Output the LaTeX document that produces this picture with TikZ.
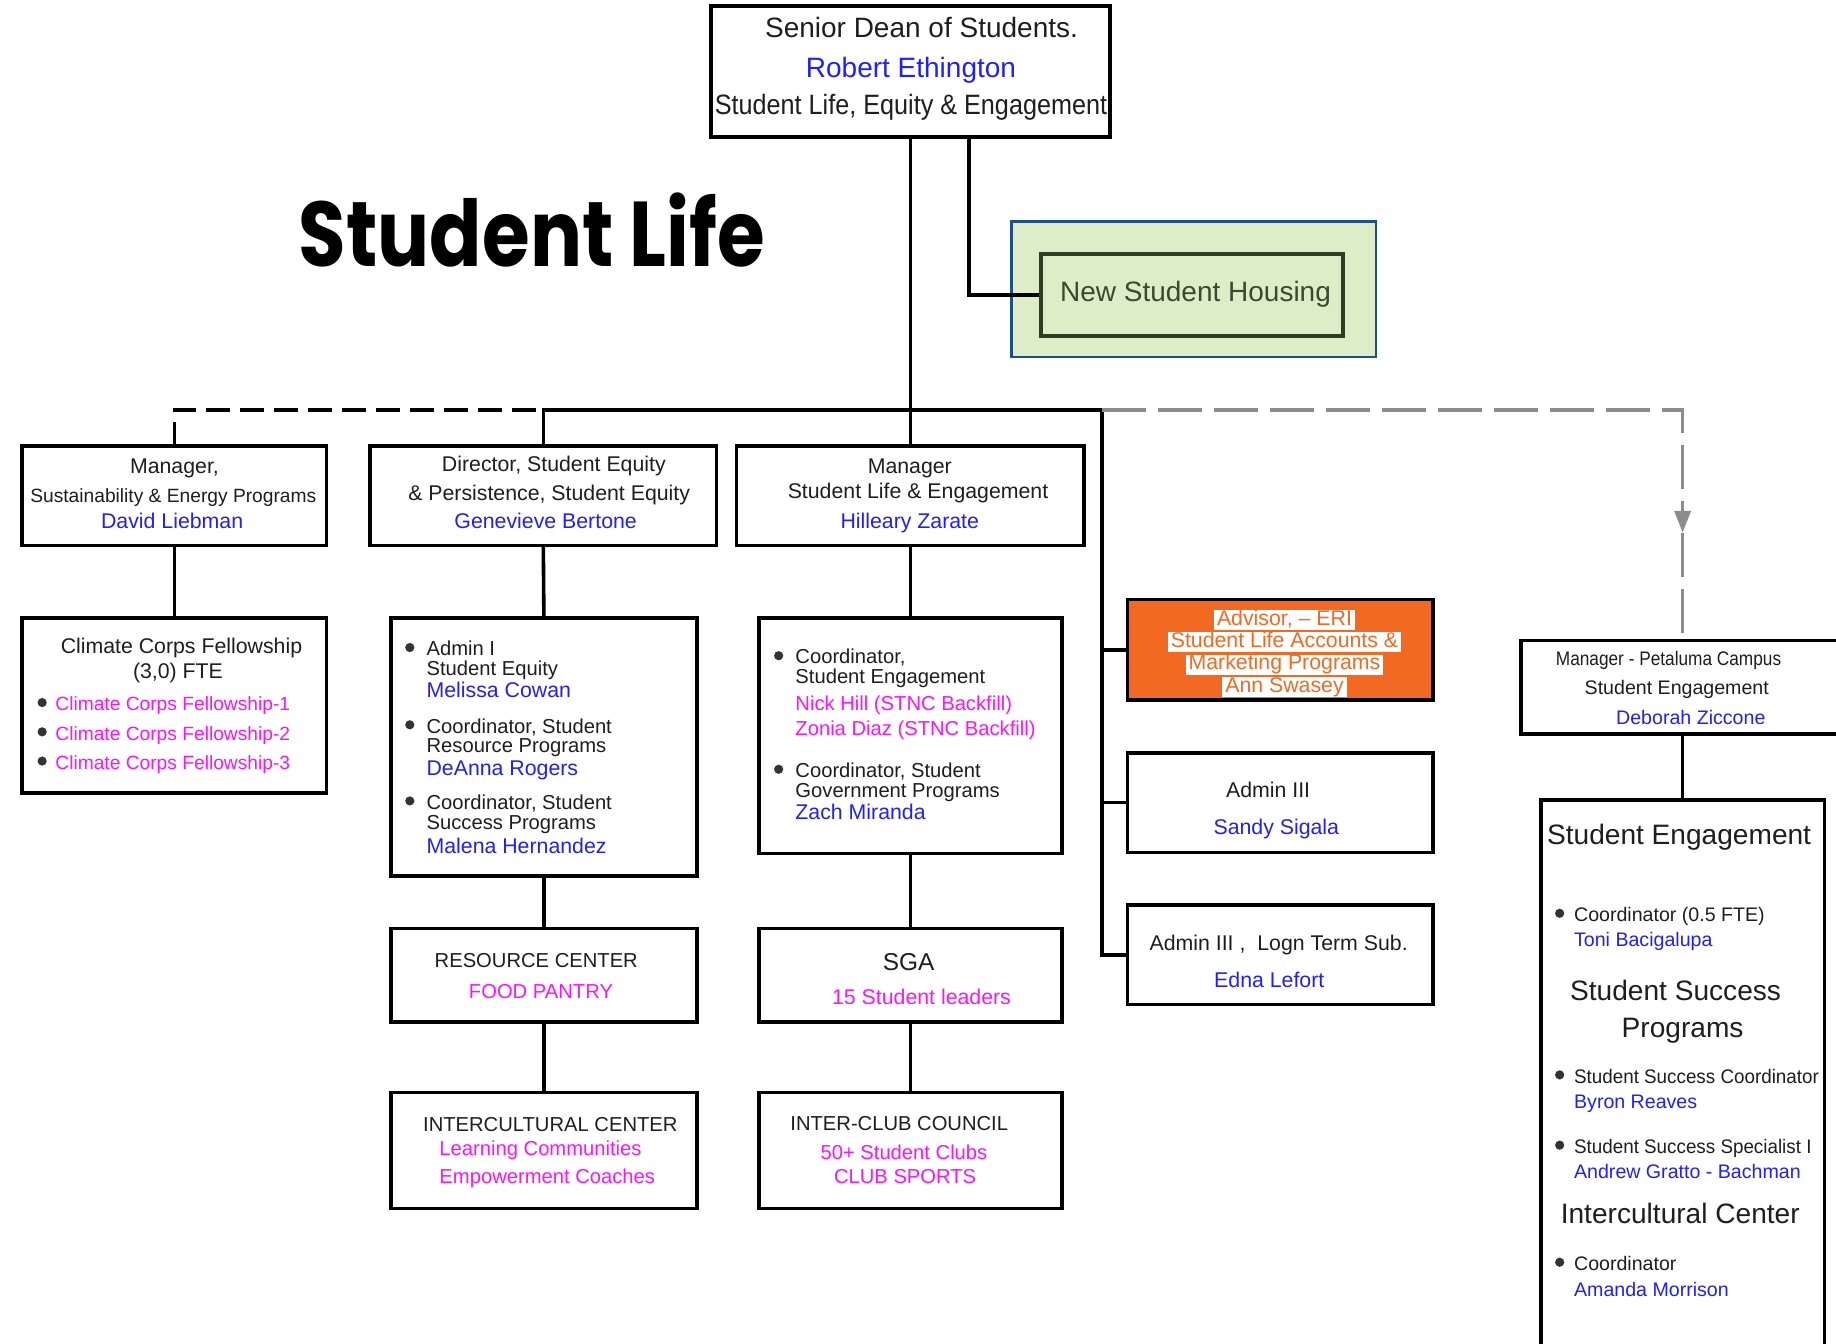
\documentclass[tikz,border=0pt]{standalone}
\usepackage{fontspec}
\setmainfont{Liberation Sans}
\newfontfamily\titlefont{Poppins}
\usetikzlibrary{arrows.meta}
\definecolor{nameblue}{HTML}{1F1FFF}
\definecolor{mag}{HTML}{FF10FF}
\definecolor{orng}{HTML}{F26A22}
\definecolor{hgreen}{HTML}{DCEDC8}
\definecolor{hblue}{HTML}{1F4E8C}
\definecolor{hdark}{HTML}{2F3B22}
\definecolor{htext}{HTML}{3A4A2E}
\definecolor{txtc}{HTML}{1E1E1E}
\definecolor{dgray}{HTML}{8C8C8C}
\definecolor{bulc}{HTML}{333333}
\newcommand\fs[1]{\fontsize{#1}{#1}\selectfont}
\newcommand\bx[6][]{\node[boxst,#1,minimum width={(#5-#3)*0.5855pt},minimum height={(#6-#4)*0.5855pt}] (#2) at ({(#3+#5)/2},{(#4+#6)/2}) {};}
\newcommand\tc[5][]{\node[txt,#1] (#2) at (#3,#4) {#5};}
\newcommand\tl[5][]{\node[txt,anchor=mid west,#1] (#2) at (#3,#4) {#5};}
\newcommand\bul[2]{\fill[bulc] (#1,#2) circle (2.3pt);}
\begin{document}
\begin{tikzpicture}[x=0.5855pt,y=-0.5855pt,
  boxst/.style={draw=black,line width=1.8pt,fill=white,inner sep=0pt,outer sep=0pt},
  conn/.style={line width=1.8pt,draw=black},
  bdash/.style={line width=1.8pt,draw=black,dash pattern=on 12pt off 5pt},
  gdash/.style={line width=1.8pt,draw=dgray,dash pattern=on 22pt off 6pt},
  txt/.style={inner sep=0pt,anchor=mid,text=txtc,yshift=-1.5pt},
  nm/.style={text=nameblue},
  mg/.style={text=mag},
  sA/.style={font=\fs{14},yshift=-1pt},
  sB/.style={font=\fs{10.65}},
  sC/.style={font=\fs{10.1}},
  sD/.style={font=\fs{9.6}},
  sE/.style={font=\fs{14.05},yshift=-1.2pt},
  sF/.style={font=\fs{9.8}},
  otx/.style={txt,anchor=center,font=\fs{10.65},text=orng,fill=white,inner xsep=1.5pt,inner ysep=0.3pt,text height=0.74em,text depth=0.2em,yshift=0pt}]
\useasboundingbox (0,0) rectangle (1568,1147);
\clip (0,0) rectangle (1568,1147);

% title
\node[inner sep=0pt,anchor=base west,text=black,font=\titlefont\bfseries\fs{46}] (title) at (255,228) {\scalebox{0.84}[1]{Student Life}};

% boxes
\bx{T}{607}{5}{948}{117}
\node[draw=hblue,line width=1.3pt,fill=hgreen,inner sep=0pt,minimum width={311*0.5855pt},minimum height={116*0.5855pt}] (HO) at (1019.5,247) {};
\node[draw=hdark,line width=1.8pt,inner sep=0pt,minimum width={258*0.5855pt},minimum height={70*0.5855pt}] (HI) at (1018,252) {};
\bx{B1}{19}{381}{279}{466}
\bx{B2}{316}{381}{612}{466}
\bx{B3}{629}{381}{926}{466}
\bx{C}{19}{528}{279}{677}
\bx{EQ}{334}{528}{595}{748}
\bx{EN}{648}{528}{907}{729}
\bx{RC}{334}{793}{595}{873}
\bx{SGA}{648}{793}{907}{873}
\bx{IC}{334}{933}{595}{1032}
\bx{ICC}{648}{933}{907}{1032}
\bx[fill=orng]{O}{963}{512}{1224}{598}
\bx{A3}{963}{643}{1224}{728}
\bx{L}{963}{773}{1224}{858}
\bx{P}{1299}{547}{1575}{627}
\bx{E}{1316}{683}{1558}{1160}

% connectors
\coordinate (busM) at (778,350);
\coordinate (busR) at (941,350);
\coordinate (gA) at (1437,455);
\draw[conn] (T.south) -- (B3.north);
\draw[conn] ([xshift=29.3pt]T.south) |- (HI.west);
\draw[conn] (B2.north) -- (B2.north |- busM) -- (busR) -- (busR |- L.west) -- (L.west);
\draw[conn] (busR |- O.west) -- (O.west);
\draw[conn] (busR |- A3.west) -- (A3.west);
\draw[bdash] (B1.north) -- (B1.north |- busM) -- (B2.north |- busM);
\draw[gdash,-{Triangle[width=8pt,length=11pt]}] (busR) -- (P.north |- busM) -- (gA);
\draw[gdash] (gA) -- (P.north);
\draw[conn] (B1.south) -- (C.north);
\draw[conn] (B2.south) -- (EQ.north);
\draw[conn] (B3.south) -- (EN.north);
\draw[conn] (EQ.south) -- (RC.north);
\draw[conn] (RC.south) -- (IC.north);
\draw[conn] (EN.south) -- (SGA.north);
\draw[conn] (SGA.south) -- (ICC.north);
\draw[conn] (P.south) -- (E.north);

% top box text
\tc[sA]{t1}{787}{23}{Senior Dean of Students.}
\tc[sA,nm]{t2}{778}{57}{Robert Ethington}
\tc[sA]{t3}{778}{89}{\scalebox{0.9}[1]{Student Life, Equity \& Engagement}}
% housing
\tc[sA,text=htext]{h1}{1021}{249}{New Student Housing}
% row 1
\tc[sB]{b11}{149}{397}{Manager,}
\tc[sD]{b12}{148}{422}{Sustainability \& Energy Programs}
\tc[sB,nm]{b13}{147}{444}{David Liebman}
\tc[sB]{b21}{473}{396}{Director, Student Equity}
\tc[sB]{b22}{469}{420}{\& Persistence, Student Equity}
\tc[sB,nm]{b23}{466}{444}{Genevieve Bertone}
\tc[sB]{b31}{777}{397}{Manager}
\tc[sB]{b32}{784}{419}{Student Life \& Engagement}
\tc[sB,nm]{b33}{777}{444}{Hilleary Zarate}
% climate
\tc[sB]{c1}{155}{551}{Climate Corps Fellowship}
\tc[sB]{c2}{152}{572}{(3,0) FTE}
\bul{36}{600}\tl[sD,mg]{c3}{47}{600}{Climate Corps Fellowship-1}
\bul{36}{625}\tl[sD,mg]{c4}{47}{625}{Climate Corps Fellowship-2}
\bul{36}{650}\tl[sD,mg]{c5}{47}{650}{Climate Corps Fellowship-3}
% equity list
\bul{350}{553}\tl[sC]{q1}{364}{553}{Admin I}
\tl[sC]{q2}{364}{570}{Student Equity}
\tl[sB,nm]{q3}{364}{589}{Melissa Cowan}
\bul{350}{619}\tl[sC]{q4}{364}{619}{Coordinator, Student}
\tl[sC]{q5}{364}{636}{Resource Programs}
\tl[sB,nm]{q6}{364}{655}{DeAnna Rogers}
\bul{350}{684}\tl[sC]{q7}{364}{684}{Coordinator, Student}
\tl[sC]{q8}{364}{701}{Success Programs}
\tl[sB,nm]{q9}{364}{722}{Malena Hernandez}
% engagement list
\bul{665}{560}\tl[sC]{e1}{679}{560}{Coordinator,}
\tl[sC]{e2}{679}{577}{Student Engagement}
\tl[sC,mg]{e3}{679}{600}{Nick Hill (STNC Backfill)}
\tl[sC,mg]{e4}{679}{621}{Zonia Diaz (STNC Backfill)}
\bul{665}{657}\tl[sC]{e5}{679}{657}{Coordinator, Student}
\tl[sC]{e6}{679}{674}{Government Programs}
\tl[sB,nm]{e7}{679}{693}{Zach Miranda}
% row 3 / 4
\tc[sC]{r1}{458}{819}{RESOURCE CENTER}
\tc[sC,mg]{r2}{462}{846}{FOOD PANTRY}
\tc[font=\fs{12.2}]{s1}{776}{822}{SGA}
\tc[sB,mg]{s2}{787}{851}{15 Student leaders}
\tc[sC]{i1}{470}{959}{INTERCULTURAL CENTER}
\tl[sC,mg]{i2}{375}{980}{Learning Communities}
\tl[sC,mg]{i3}{375}{1004}{Empowerment Coaches}
\tc[sC]{k1}{768}{958}{INTER-CLUB COUNCIL}
\tc[sC,mg]{k2}{772}{983}{50+ Student Clubs}
\tc[sC,mg]{k3}{773}{1004}{CLUB SPORTS}
% orange
\node[otx] (o1) at (1097,527) {Advisor, -- ERI};
\node[otx] (o2) at (1097,546) {Student Life Accounts \&};
\node[otx] (o3) at (1097,565) {Marketing Programs};
\node[otx] (o4) at (1097,584) {Ann Swasey};
% admin boxes
\tc[sB]{a1}{1083}{674}{Admin III}
\tc[sB,nm]{a2}{1090}{706}{Sandy Sigala}
\tc[sB]{l1}{1092}{805}{Admin III ,\ \ Logn Term Sub.}
\tc[sB,nm]{l2}{1084}{836}{Edna Lefort}
% petaluma
\tc[sF]{p1}{1425}{561}{\scalebox{0.88}[1]{Manager - Petaluma Campus}}
\tc[sF]{p2}{1432}{586}{Student Engagement}
\tc[sF,nm]{p3}{1444}{612}{Deborah Ziccone}
% big box
\tc[sE]{g1}{1434}{712}{Student Engagement}
\bul{1332}{780}\tl[sF]{g2}{1344}{780}{Coordinator (0.5 FTE)}
\tl[sF,nm]{g3}{1344}{801}{Toni Bacigalupa}
\tc[sE]{g4}{1431}{845}{Student Success}
\tc[sE]{g5}{1437}{877}{Programs}
\bul{1332}{918}\tl[sF]{g6}{1344}{918}{\scalebox{0.96}[1]{Student Success Coordinator}}
\tl[sF,nm]{g7}{1344}{940}{Byron Reaves}
\bul{1332}{978}\tl[sF]{g8}{1344}{978}{\scalebox{0.96}[1]{Student Success Specialist I}}
\tl[sF,nm]{g9}{1344}{999}{Andrew Gratto - Bachman}
\tc[sE]{g10}{1435}{1036}{Intercultural Center}
\bul{1332}{1078}\tl[sF]{g11}{1344}{1078}{Coordinator}
\tl[sF,nm]{g12}{1344}{1100}{Amanda Morrison}
\end{tikzpicture}
\end{document}
